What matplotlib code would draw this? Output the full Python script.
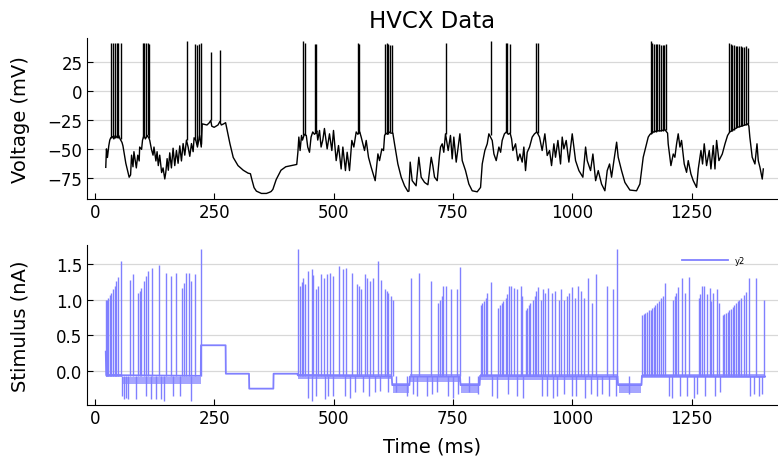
import matplotlib
matplotlib.use("Agg")
import matplotlib.pyplot as plt

# ---- voltage trace (subthreshold knots) ----
v_time = [23, 24.4, 26.5, 29.3, 31.4, 33.5, 37, 40, 43, 47, 50, 53, 57, 59, 65, 72,
          75, 77, 80, 82, 86, 87, 90, 93, 94, 98, 100, 103, 106, 110, 113, 115,
          118.7, 122, 124, 128, 130.5, 133, 136, 140, 143, 146.6, 148.7, 151.5, 154, 157,
          160.5, 164, 167.5, 171, 174.5, 178, 181.5, 185, 188.5, 192, 195.5, 199, 202.5, 206,
          208, 211.5, 215, 219.6, 223, 225, 235, 240, 243, 245, 250, 258, 262, 265, 270, 274,
          283, 290, 300, 311, 321, 326, 329, 333.6, 338.5, 349, 359.5, 366, 369.4, 373, 380, 390,
          400, 411, 423, 425.4, 427.4, 430, 433, 435, 439, 443, 446, 449.7, 453, 456.5, 460, 463,
          465, 467, 470.7, 474, 477.6, 481, 486.7, 491.6, 496.5, 500, 505.6, 510.5, 516, 519.6,
          525, 528.6, 533.5, 538.4, 542.6, 547.5, 551, 555, 558, 565, 568.5, 573.3, 579, 587.3,
          593, 596.4, 601.3, 604.8, 607, 610, 613, 616, 620, 624.3, 627.8, 634.8, 641.8, 648.8,
          655.8, 658, 660.6, 664.8, 673, 678.7, 683.6, 690.7, 697.7, 704.7, 708, 711.6, 717.2, 722,
          724.2, 727.7, 731, 734.6, 740.2, 745, 748.6, 752, 757, 761.2, 764.7, 769.6, 776.5, 783.5,
          790.5, 801, 808, 811.5, 817, 822, 825.4, 832.4, 836, 840.8, 846.4, 850, 853.3, 858,
          862, 866, 870, 873, 875.7, 881.3, 886, 890.4, 895.2, 898.7, 902.2, 905.7, 910.6, 916.2,
          921, 926, 931.5, 937, 942.7, 947.6, 952.5, 956.7, 961.6, 965, 970, 975.5, 979, 982.5,
          987.4, 993, 1000, 1007, 1014, 1022.3, 1028, 1031.4, 1038.4, 1043.3, 1049, 1054.5, 1061.4, 1068.4,
          1073.3, 1078.2, 1082.4, 1087.3, 1093, 1096.3, 1103.3, 1110.3, 1120.8, 1134.7, 1141.7, 1148.7, 1155.7, 1159.2,
          1163, 1170, 1178, 1186, 1194, 1199.7, 1201, 1206.7, 1211.6, 1215, 1218.6, 1222, 1225.6, 1229,
          1234.6, 1239.5, 1243, 1248.6, 1253.5, 1260.5, 1264, 1269.6, 1273, 1276.5, 1281.4, 1287, 1290.5, 1295.4,
          1299, 1302.4, 1307.3, 1314.3, 1320, 1325.4, 1330, 1338, 1346, 1354, 1362, 1368, 1370, 1372,
          1377, 1382.7, 1387, 1389.7, 1393.2, 1398, 1400.2]
v_mv = [-65.5, -49.6, -57, -47, -42, -40, -39, -41, -38, -40, -38, -41, -44, -47, -62, -74,
        -72, -55, -65, -52, -63, -66, -55, -60, -48, -50, -42, -38, -41, -38, -40, -42,
        -50, -55, -48, -60, -52, -64, -55, -70, -66, -75.5, -70, -58, -68, -53,
        -66, -49, -64, -51, -62, -47, -60, -45, -55, -42, -48, -56, -45, -52,
        -40, -42, -48, -38, -48, -28, -29, -27, -25, -30, -31, -29, -26, -29, -28, -27,
        -45, -57, -64, -68, -70.5, -71, -76, -83, -86, -88, -88, -87, -86.3, -84.5, -76, -68,
        -65, -64, -63, -52.5, -39.4, -51, -38, -42, -37, -38, -48, -52.5, -39.4, -35, -37, -36,
        -34, -42, -33.7, -48, -42, -32, -49.6, -36.6, -51, -33.7, -59.7, -46.7, -66.9, -48,
        -68.3, -52.5, -68.3, -42.3, -48, -35, -37, -35, -39.4, -51, -42.3, -56.8, -65.5, -77,
        -53.9, -59.7, -49.6, -51, -38, -36, -37, -35, -36, -36, -45.2, -62.6, -74, -81.4,
        -86.3, -86, -61, -77, -81.4, -56.8, -74, -78.5, -80.5, -56.8, -64, -74, -77, -55.3,
        -48, -45.2, -52.5, -36.6, -51, -38, -58.2, -39.4, -61, -48, -36.6, -59.7, -68.3, -79.9,
        -85.7, -86.6, -82.8, -62.6, -51, -45.2, -36.6, -42.3, -54, -59.7, -48, -52.5, -42.3, -36.6,
        -35, -37, -36, -41, -51, -45.2, -59.7, -54, -61, -48, -68.3, -52.5, -48, -39.4,
        -36.6, -35, -39.4, -51, -36.6, -55.3, -51, -64, -45.2, -56.8, -42.3, -62.6, -39.4, -49.6,
        -42.3, -61, -36.6, -59.7, -68.3, -74, -48, -59.7, -68.3, -54, -77, -68.3, -79.9, -85.7,
        -68.3, -62.6, -74, -59.7, -43.8, -56.8, -68.3, -78.5, -85.1, -85.7, -79.9, -56.8, -45.2, -39.4,
        -37, -35, -34, -34, -33, -36, -45.2, -64, -54, -56.8, -45.2, -36.6, -48, -42.3,
        -62.6, -69.8, -59.7, -71.2, -77, -82.8, -66.9, -51, -62.6, -45.2, -64, -51, -66.9, -46.7,
        -66.9, -42.3, -59.7, -54, -45.2, -38, -35, -33, -31, -30, -29, -28, -30, -39.4,
        -56.8, -62.6, -45.2, -59.7, -65.5, -75.6, -66.9]

# action potentials: time, foot, peak
spk_t = [35, 38.5, 42, 45.5, 49, 54, 101, 104, 108, 111.5, 114, 194, 210, 214, 218.5, 222,
         243, 263, 437, 441, 461, 464, 552, 554, 608, 611, 614.5, 618, 622, 736, 830,
         860.3, 863.8, 868.7, 925, 928,
         1164, 1167.6, 1171, 1174.6, 1178, 1182.3, 1185.8, 1189.3, 1192.8, 1197,
         1328.2, 1331.7, 1335.2, 1338.7, 1342.2, 1345.7, 1349.2, 1352.7, 1356.2, 1359.7, 1363.2, 1367.4]
spk_foot = [-40, -39, -40, -39, -40, -41, -40, -39, -39, -38, -40, -42, -42, -45, -40, -45,
            -25, -26, -38, -38, -36, -35, -36, -36, -37, -36, -37, -35, -36, -37, -38,
            -35, -36, -36, -35, -36,
            -37, -36, -35, -35, -34, -34, -34, -34, -33, -33,
            -35, -34, -34, -33, -32, -31, -31, -30, -30, -29, -29, -28]
spk_peak = [41.5, 41.5, 41.5, 41.5, 41.5, 41.5, 41.5, 41.5, 42, 42, 41, 43, 41, 40, 41, 42,
            34, 35.5, 43, 42, 41, 41, 41.5, 41, 41, 42, 41, 40, 40, 42, 43,
            42, 42, 41, 42, 42,
            43, 42, 41, 41, 41, 41, 40, 40, 40, 41,
            42, 41, 40, 40, 39, 39, 39, 39, 38, 38, 39, 37]

# ---- stimulus current ----
stim_base_t = [23, 24, 222, 222.5, 274, 274.5, 323, 323.5, 374, 374.5, 424.6, 425,
               622, 623, 659, 660, 765, 766, 806, 807, 1095, 1096, 1145, 1146, 1404]
stim_base_v = [0.27, -0.06, -0.07, 0.36, 0.36, -0.04, -0.04, -0.25, -0.25, -0.04, -0.04, -0.06,
               -0.08, -0.2, -0.2, -0.08, -0.08, -0.2, -0.2, -0.07, -0.08, -0.2, -0.2, -0.07, -0.08]
stim_rest = -0.07

pulse_t = [23, 25.8, 27.9, 31.4, 34.9, 38.4, 41.9, 45.4, 48.9, 54.5,
           73.3, 80.3, 90.8, 94.3, 97.8, 102.6, 106.8, 111.7, 120.5, 134.1, 150.1, 160.6, 171.1,
           183, 187.1, 192, 196.9, 202.5, 209.5, 222,
           424.6, 429.4, 433, 436.4, 440, 447, 454, 457.4, 463, 467.9, 474.8, 480.4, 486.7, 492.3,
           499.3, 511.9, 520.2, 527.2, 537.7, 548.2, 553.7, 558.6, 565.6, 571.2, 576.1, 583, 592.2,
           600.5, 607.5, 611, 614.5, 619.4, 623.8,
           661.4, 678.8, 703.2, 719.3, 722.8, 726.3, 729.8, 736, 745.1, 757.7, 764,
           808, 811.4, 814.9, 818.4, 821.9, 828.9,
           844.9, 848.4, 851.9, 855.4, 860.3, 863.8, 867.3, 872.2, 877.7, 883.3, 891.7, 895.2,
           902.2, 905.7, 909.1, 912.6, 917.5, 921, 924.5, 928.7, 933.6, 939.2, 944, 949.6, 956.6,
           963.6, 972, 977.5, 983.8, 989.4, 992.9, 999.9, 1005.5, 1012.4, 1019.4, 1024.3, 1032.7,
           1041.8, 1050.1, 1073.2, 1085, 1094.1,
           1146.5, 1150, 1153.4, 1157, 1160.4, 1164, 1167.4, 1171, 1174.4, 1178, 1181.4, 1185,
           1189.7, 1194,
           1211.4, 1215, 1218.4, 1222, 1229, 1237.2, 1245.6,
           1265.1, 1268.6, 1272, 1275.6, 1282.6, 1288.2, 1291.6, 1295.1, 1303.5, 1307,
           1315.4, 1318.9, 1322.4, 1325.9, 1329.3, 1332.8, 1336.3, 1339.8, 1343.3, 1346.8, 1350.3,
           1354.5, 1359.4, 1364.2, 1369.8, 1385.2, 1401.2]
pulse_peak = [0.99, 1.0, 1.03, 1.07, 1.1, 1.15, 1.2, 1.27, 1.32, 1.55,
              1.28, 1.36, 1.1, 1.12, 1.17, 1.26, 1.33, 1.4, 1.44, 1.49, 1.38, 1.33, 1.38,
              1.16, 1.24, 1.37, 1.37, 1.26, 1.36, 1.71,
              1.72, 1.2, 1.25, 1.3, 1.22, 1.4, 1.43, 1.35, 1.15, 1.2, 1.36, 1.3, 1.36, 1.38,
              1.34, 1.48, 1.43, 1.45, 1.37, 1.22, 1.2, 1.15, 1.36, 1.3, 1.26, 1.3, 1.55,
              1.28, 1.15, 1.12, 1.1, 1.05, 1.0,
              1.3, 1.38, 1.26, 0.95, 1.0, 1.05, 1.19, 1.2, 1.15, 1.15, 1.46,
              0.92, 0.95, 0.98, 1.02, 1.1, 1.25,
              0.88, 0.92, 0.95, 0.98, 1.03, 1.08, 1.2, 1.2, 1.16, 1.15, 1.2, 1.05,
              0.85, 0.88, 0.92, 0.96, 1.0, 1.05, 1.13, 1.18, 1.0, 1.15, 1.1, 1.16, 1.1,
              1.12, 1.0, 1.15, 1.0, 1.05, 1.1, 1.18, 1.03, 1.2, 1.13, 1.03, 1.3,
              0.96, 1.36, 1.2, 1.15, 1.71,
              0.78, 0.8, 0.82, 0.83, 0.85, 0.86, 0.88, 0.9, 0.92, 0.95, 0.98, 1.02,
              1.05, 1.23,
              1.0, 1.05, 1.1, 1.18, 1.3, 1.1, 1.32,
              1.03, 1.08, 1.2, 1.2, 1.08, 1.16, 0.98, 1.1, 1.15, 0.95,
              0.78, 0.8, 0.81, 0.83, 0.85, 0.87, 0.9, 0.92, 0.95, 0.98, 1.0,
              1.03, 1.06, 1.11, 1.3, 1.3, 1.0]

dip_t = [58, 60.8, 65, 69.8, 85.9, 108, 118.7, 127.8, 139.7, 144.5, 164, 178, 201,
         447, 454, 463, 481.8, 488.8, 499.3, 523.7, 534, 544.7, 562, 574.7, 586.6, 597, 614.5,
         630, 654.4, 666.2, 675.3, 696.3, 706.7, 715.8, 740.2, 750, 761.2, 783.5, 803,
         832.4, 841.4, 864.5, 884.7, 897.3, 935.7, 947.5, 959.4, 968.5, 982.4, 998.5, 1008.9,
         1027.8, 1038.3, 1052.3, 1062.7, 1076.7, 1090.7, 1118.6, 1202.3, 1209.3, 1226.7,
         1240.6, 1254.6, 1261.6, 1279, 1298.6, 1310.5, 1373.3, 1380.3, 1390.8, 1397.8]
dip_v = [-0.35, -0.4, -0.38, -0.4, -0.4, -0.35, -0.4, -0.4, -0.4, -0.42, -0.35, -0.35, -0.42,
         -0.38, -0.42, -0.35, -0.4, -0.35, -0.35, -0.36, -0.38, -0.3, -0.3, -0.35, -0.3, -0.28, -0.3,
         -0.3, -0.35, -0.33, -0.35, -0.35, -0.33, -0.3, -0.35, -0.38, -0.33, -0.3, -0.33,
         -0.35, -0.38, -0.33, -0.36, -0.38, -0.36, -0.35, -0.38, -0.35, -0.33, -0.36, -0.35,
         -0.38, -0.33, -0.35, -0.33, -0.35, -0.36, -0.33, -0.35, -0.38, -0.35,
         -0.36, -0.38, -0.33, -0.35, -0.36, -0.3, -0.35, -0.33, -0.36, -0.33]

# noisy hyperpolarised stretches of the stimulus
band_start = [624, 767, 1097]
band_end = [658, 805, 1144]
band_top = [-0.17, -0.17, -0.17]
band_bottom = [-0.31, -0.31, -0.31]

# jittery floor under the pulse trains
fuzz_start = [24, 60, 425, 660, 807, 1146]
fuzz_end = [58, 222, 623, 765, 1095, 1404]
fuzz_top = [-0.04, -0.08, -0.04, -0.05, -0.05, -0.04]
fuzz_bottom = [-0.09, -0.18, -0.11, -0.15, -0.13, -0.1]

black = "black"
blue = "#8080ff"
pale_blue = "#a6a6ff"

fig = plt.figure(figsize=(7.78, 4.6), dpi=100)
ax1 = fig.add_axes([0.1114, 0.5652, 0.8886, 0.35])
ax2 = fig.add_axes([0.1114, 0.1174, 0.8886, 0.3478])

ax1.plot(v_time, v_mv, color=black, lw=1.0)
ax1.vlines(spk_t, spk_foot, spk_peak, color=black, lw=1.0)

ax2.plot(stim_base_t, stim_base_v, color=blue, lw=1.3, label="y2")
for s, e, top, bot in zip(band_start, band_end, band_top, band_bottom):
    ax2.fill_between([s, e], [bot, bot], [top, top], color=pale_blue, lw=0)
for s, e, top, bot in zip(fuzz_start, fuzz_end, fuzz_top, fuzz_bottom):
    ax2.fill_between([s, e], [bot, bot], [top, top], color=pale_blue, lw=0)
ax2.vlines(pulse_t, stim_rest, pulse_peak, color=blue, lw=1.0)
ax2.vlines(dip_t, stim_rest, dip_v, color=blue, lw=1.0)

ax1.set_title("HVCX Data", fontsize=16.5, pad=8)
ax1.set_ylabel("Voltage (mV)", fontsize=14)
ax2.set_ylabel("Stimulus (nA)", fontsize=14)
ax2.set_xlabel("Time (ms)", fontsize=14)
ax1.yaxis.set_label_coords(-0.082, 0.5)
ax2.yaxis.set_label_coords(-0.082, 0.5)
ax2.xaxis.set_label_coords(0.5, -0.2)

ax1.set_xlim(-17, 1431)
ax2.set_xlim(-17, 1431)
ax1.set_ylim(-92.8, 46)
ax2.set_ylim(-0.48, 1.77)
ax1.set_yticks([-75, -50, -25, 0, 25])
ax2.set_yticks([0.0, 0.5, 1.0, 1.5])
ax2.set_yticklabels(["0.0", "0.5", "1.0", "1.5"])
for ax in (ax1, ax2):
    ax.set_xticks([0, 250, 500, 750, 1000, 1250])
    ax.spines["top"].set_visible(False)
    ax.spines["right"].set_visible(False)
    ax.grid(axis="y", color="#d8d8d8", lw=0.9)
    ax.set_axisbelow(True)
    ax.tick_params(direction="in", length=4, labelsize=12, pad=3)

leg = ax2.legend(loc="upper right", bbox_to_anchor=(0.963, 0.98), fontsize=6,
                 frameon=False, handlelength=5.5)

fig.savefig("out.png", dpi=100)
